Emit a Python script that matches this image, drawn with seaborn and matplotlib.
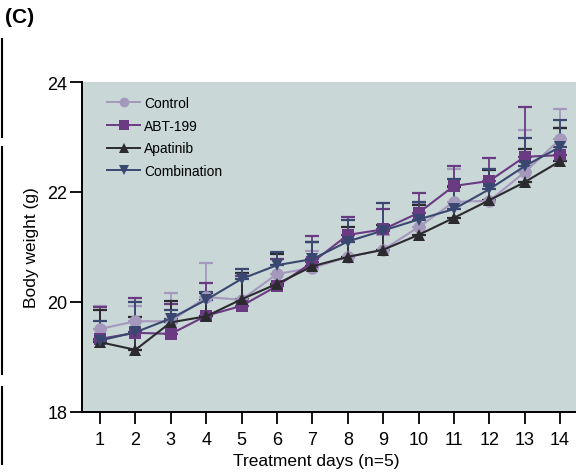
import numpy as np
import pandas as pd
import matplotlib
matplotlib.use('Agg')
import matplotlib.pyplot as plt
from matplotlib.lines import Line2D
import seaborn as sns

days = list(range(1, 15))
groups = ['Control', 'ABT-199', 'Apatinib', 'Combination']

control = [19.51, 19.65, 19.65, 20.09, 20.04, 20.51, 20.62, 20.82, 20.95, 21.36, 21.82, 21.84, 22.36, 22.96]
abt199 = [19.33, 19.44, 19.42, 19.75, 19.93, 20.29, 20.72, 21.22, 21.32, 21.62, 22.11, 22.20, 22.64, 22.67]
apatinib = [19.27, 19.13, 19.63, 19.74, 20.05, 20.33, 20.65, 20.82, 20.95, 21.22, 21.53, 21.85, 22.18, 22.56]
combination = [19.30, 19.45, 19.70, 20.04, 20.42, 20.67, 20.78, 21.10, 21.30, 21.50, 21.69, 22.05, 22.47, 22.82]

# upper error (SD) read from the caps
control_err = [0.42, 0.28, 0.51, 0.62, 0.49, 0.27, 0.30, 0.33, 0.26, 0.44, 0.60, 0.58, 0.77, 0.55]
abt199_err = [0.58, 0.63, 0.55, 0.60, 0.55, 0.50, 0.48, 0.33, 0.37, 0.36, 0.36, 0.42, 0.91, 0.49]
apatinib_err = [0.58, 0.60, 0.39, 0.42, 0.48, 0.55, 0.45, 0.55, 0.45, 0.55, 0.56, 0.55, 0.60, 0.60]
combination_err = [0.35, 0.55, 0.15, 0.14, 0.18, 0.24, 0.32, 0.40, 0.50, 0.32, 0.55, 0.37, 0.51, 0.49]

colors = {'Control': '#a598bd', 'ABT-199': '#6a3b83',
          'Apatinib': '#2b2a2e', 'Combination': '#3a4871'}
markers = {'Control': 'o', 'ABT-199': 's', 'Apatinib': '^', 'Combination': 'v'}

values = {'Control': control, 'ABT-199': abt199,
          'Apatinib': apatinib, 'Combination': combination}
errors = {'Control': control_err, 'ABT-199': abt199_err,
          'Apatinib': apatinib_err, 'Combination': combination_err}

df = pd.DataFrame([(g, d, v) for g in groups for d, v in zip(days, values[g])],
                  columns=['group', 'day', 'weight'])

plt.rcParams['font.family'] = ['Liberation Sans', 'DejaVu Sans']

fig = plt.figure(figsize=(5.76, 4.77), dpi=100)
ax = fig.add_axes([82 / 576, 1 - 413 / 477, 1 - 82 / 576, 330 / 477])
ax.set_facecolor('#c9d7d6')

# one-sided error bars
for g in groups:
    err = np.array(errors[g])
    ax.errorbar(days, values[g], yerr=[np.zeros_like(err), err], fmt='none',
                ecolor=colors[g], elinewidth=1.3, capsize=5, capthick=1.6, zorder=2)

sns.lineplot(data=df, x='day', y='weight', hue='group', style='group',
             palette=colors, markers=markers, dashes=False, markersize=9,
             markeredgewidth=0, linewidth=1.5, ax=ax, zorder=3, legend=False)

ax.set_xlim(0.49, 14.45)
ax.set_ylim(18, 24)
ax.set_xticks(days)
ax.set_yticks([18, 20, 22, 24])
ax.tick_params(axis='x', length=8.5, width=1.3, labelsize=13, pad=5)
ax.tick_params(axis='y', length=8.5, width=1.3, labelsize=13, pad=2)
for s in ['top', 'right']:
    ax.spines[s].set_visible(False)
for s in ['left', 'bottom']:
    ax.spines[s].set_linewidth(1.4)
ax.set_xlabel('Treatment days (n=5)', fontsize=12.5)
ax.set_ylabel('Body weight (g)', fontsize=12.5)
ax.xaxis.set_label_coords(0.475, -0.125)
ax.yaxis.set_label_coords(-0.088, 0.5)

handles = [Line2D([0], [0], color=colors[g], marker=markers[g], markersize=7,
                  markeredgewidth=0, linewidth=1.4) for g in groups]
ax.legend(handles, groups, loc='upper left', frameon=False, fontsize=10,
          handlelength=2.4, labelspacing=0.62, bbox_to_anchor=(0.025, 0.995),
          handletextpad=0.3)

fig.text(0.008, 0.952, '(C)', fontsize=15, fontweight='bold')

# cropped panel edge lines at the far left
for y0, y1 in [(40, 138), (148, 375), (388, 465)]:
    fig.add_artist(Line2D([2 / 576, 2 / 576], [1 - y0 / 477, 1 - y1 / 477],
                          color='black', linewidth=1.5))

fig.savefig('out.png', dpi=100)
